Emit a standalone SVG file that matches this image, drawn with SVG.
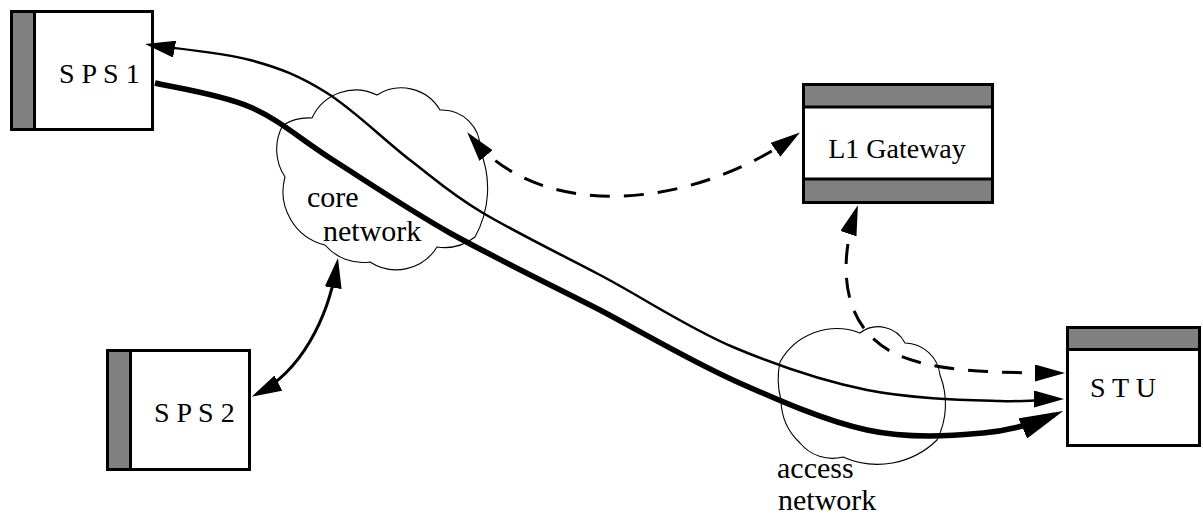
<svg xmlns="http://www.w3.org/2000/svg" width="1203" height="514" viewBox="0 0 1203 514">
  <style>
    .box { fill: #fff; stroke: #000; stroke-width: 3; }
    .bar { fill: #808080; stroke: #000; stroke-width: 3; }
    .cloud { fill: none; stroke: #000; stroke-width: 1.1; }
    .lbl { font-family: "Liberation Serif", "Times New Roman", serif; font-size: 28px; fill: #000; }
    .cl { font-size: 30px; }
    .line { fill: none; stroke: #000; stroke-width: 2.5; }
    .thick { stroke-width: 5.5; }
    .dash { stroke-width: 3; stroke-dasharray: 20 14; }
  </style>
  <defs>
    <marker id="ah" markerUnits="userSpaceOnUse" viewBox="0 0 30 17" markerWidth="30" markerHeight="17" refX="24" refY="8.5" orient="auto-start-reverse">
      <path d="M0,0 L30,8.5 L0,17 Z" fill="#000"/>
    </marker>
    <marker id="ahb" markerUnits="userSpaceOnUse" viewBox="0 0 44 22" markerWidth="44" markerHeight="22" refX="34" refY="11" orient="auto">
      <path d="M0,0 L44,11 L0,22 Z" fill="#000"/>
    </marker>
  </defs>
  <rect width="1203" height="514" fill="#fff"/>

  <!-- clouds -->
  <g id="core-network">
    <path class="cloud" d="M312,118 A48,48 0 0 1 377,95 A45,45 0 0 1 440,110 A38,38 0 0 1 480,150 A100,100 0 0 1 475,237 A50,50 0 0 1 437,247 A48,48 0 0 1 370,262 A50,50 0 0 1 325,245 A55,55 0 0 1 285,177 A50,50 0 0 1 283,125 A50,50 0 0 1 312,118 Z"/>
    <text class="lbl cl" x="307" y="207">core</text>
    <text class="lbl cl" x="323" y="241">network</text>
  </g>
  <g id="access-network">
    <path class="cloud" d="M780,362 A65,65 0 0 1 860,333 A30,30 0 0 1 905,343 A36,36 0 0 1 940,375 A80,80 0 0 1 937,440 A85,85 0 0 1 843,457 A42,42 0 0 1 800,443 A60,60 0 0 1 781,400 A80,80 0 0 1 780,362 Z"/>
    <text class="lbl cl" x="777" y="478">access</text>
    <text class="lbl cl" x="778" y="510">network</text>
  </g>

  <!-- boxes -->
  <g id="sps1">
    <rect class="box" x="11.5" y="11.5" width="141" height="118"/>
    <rect class="bar" x="11.5" y="11.5" width="23" height="118"/>
    <text class="lbl" x="59" y="83">S P S 1</text>
  </g>
  <g id="sps2">
    <rect class="box" x="107.5" y="350.5" width="142" height="119"/>
    <rect class="bar" x="107.5" y="350.5" width="23" height="119"/>
    <text class="lbl" x="154" y="422">S P S 2</text>
  </g>
  <g id="l1-gateway">
    <rect class="box" x="803.5" y="84.5" width="189" height="118"/>
    <rect class="bar" x="803.5" y="84.5" width="189" height="22.5"/>
    <rect class="bar" x="803.5" y="179" width="189" height="23.5"/>
    <text class="lbl" x="897" y="158" text-anchor="middle">L1 Gateway</text>
  </g>
  <g id="stu">
    <rect class="box" x="1067.5" y="327.5" width="132" height="118"/>
    <rect class="bar" x="1067.5" y="327.5" width="132" height="22"/>
    <text class="lbl" x="1090" y="397">S T U</text>
  </g>

  <!-- connectors -->
  <g id="connectors">
    <path class="line" marker-start="url(#ah)" marker-end="url(#ah)" d="M151,45 C165,47.5 220,52 250,60 C280,68 300,76 327,93 C354,110 384,140 410,160 C436,180 451,194 483,213 C515,232 558,253 600,275 C642,297 688,328 733,347 C778,366 822,381 867,390 C912,399 968,400 1000,401 C1030,402 1048,399 1058,399"/>
    <path class="line thick" marker-end="url(#ahb)" d="M155,83 C171,87 220,94 250,107 C280,120 300,139 333,160 C366,181 406,208 450,233 C495,258 553,286 600,310 C647,335 689,360 733,380 C778,400 825,421 867,430 C909,439 951,436 983,433 C1015,430 1040,421 1054,415"/>
    <path class="line dash" marker-start="url(#ah)" marker-end="url(#ah)" d="M471,137 C540,222 690,210 795,136"/>
    <path class="line dash" marker-start="url(#ah)" marker-end="url(#ah)" d="M856,211 C838,265 840,330 900,356 C935,370 980,373 1059,373"/>
    <path class="line" style="stroke-width:3" marker-start="url(#ah)" marker-end="url(#ah)" d="M257,394 C300,372 328,320 337,264"/>
  </g>
</svg>
